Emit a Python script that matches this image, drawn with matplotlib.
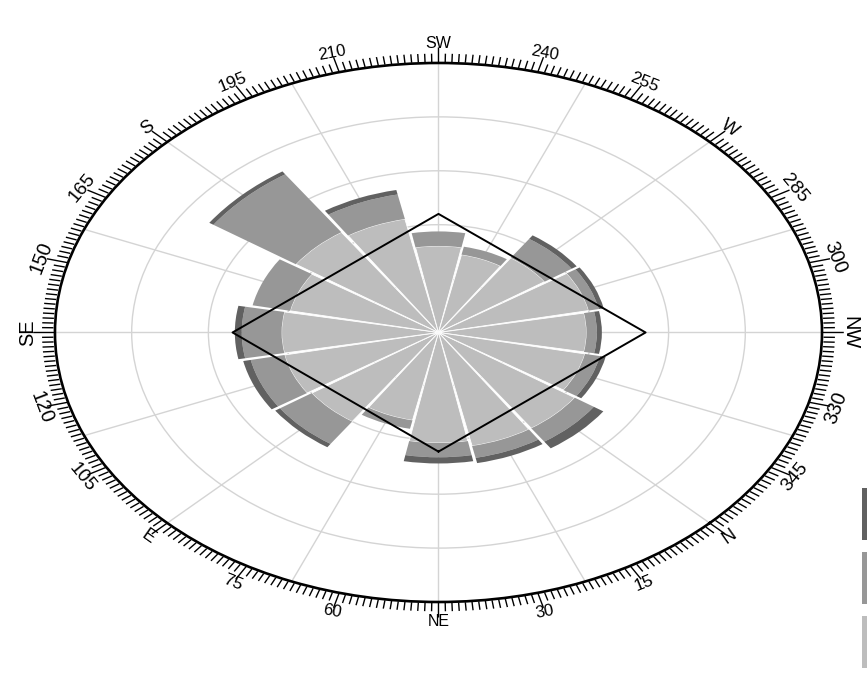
import numpy as np
import matplotlib
matplotlib.use("Agg")
import matplotlib.pyplot as plt
from matplotlib.patches import Patch

# ---------------- data ----------------
directions = [0, 22.5, 45, 67.5, 90, 112.5, 135, 157.5,
              180, 202.5, 225, 247.5, 270, 292.5, 315, 337.5]
light_vals = [0.43, 0.43, 0.41, 0.333, 0.40, 0.41, 0.409, 0.395,
              0.45, 0.43, 0.321, 0.295, 0.335, 0.40, 0.386, 0.39]
medium_vals = [0.06, 0.045, 0.053, 0.032, 0.10, 0.09, 0.104, 0.10,
               0.26, 0.093, 0.054, 0.03, 0.085, 0.027, 0.027, 0.04]
dark_vals = [0.03, 0.02, 0.023, 0.0, 0.015, 0.02, 0.018, 0.0,
             0.013, 0.017, 0.0, 0.0, 0.016, 0.013, 0.013, 0.015]
series_names = ["High", "Medium", "Low"]

diamond_theta = [45, 135, 225, 315]
diamond_r = [0.442, 0.537, 0.44, 0.54]

ring_values = [0.2, 0.4, 0.6, 0.8]
compass_names = {0: "N", 45: "NE", 90: "E", 135: "SE", 180: "S",
                 225: "SW", 270: "W", 315: "NW"}
label_degrees = list(range(0, 360, 15))

# ---------------- styles ----------------
c_light, c_medium, c_dark = "#bdbdbd", "#979797", "#616161"
grid_color = "#d4d4d4"

fig = plt.figure(figsize=(8.67, 6.83), dpi=100)
ax = fig.add_axes([0.0634, 0.1186, 0.8847, 0.7892], projection="polar")
ax.set_aspect("auto")
ax.set_theta_direction(-1)
ax.set_theta_offset(np.deg2rad(-45))
ax.set_ylim(0, 1)
ax.set_axisbelow(True)

# grid
ax.set_yticks(ring_values)
ax.set_yticklabels([])
ax.set_xticks(np.deg2rad(np.arange(0, 360, 22.5)))
ax.set_xticklabels([])
ax.tick_params(axis="both", length=0)
ax.grid(True, color=grid_color, linewidth=1.0)
ax.spines["polar"].set_color("black")
ax.spines["polar"].set_linewidth(1.9)

# bars
theta = np.deg2rad(directions)
width = np.deg2rad(21.5)
light = np.array(light_vals)
medium = np.array(medium_vals)
dark = np.array(dark_vals)
ax.bar(theta, light, width=width, color=c_light, edgecolor="white",
       linewidth=0.6, zorder=2, label=series_names[2])
ax.bar(theta, medium, bottom=light, width=width, color=c_medium,
       edgecolor="none", linewidth=0, zorder=2, label=series_names[1])
ax.bar(theta, dark, bottom=light + medium, width=width, color=c_dark,
       edgecolor="none", linewidth=0, zorder=2, label=series_names[0])

# diamond outline
dt = np.deg2rad(diamond_theta + diamond_theta[:1])
dr = diamond_r + diamond_r[:1]
ax.plot(dt, dr, color="black", linewidth=1.4, zorder=5)

# compass tick marks outside the ellipse
tk_t, tk_r = [], []
for d in range(360):
    t = np.deg2rad(d)
    if d % 15 == 0:
        r0, r1 = 1.004, 1.055
    else:
        r0, r1 = 1.006, 1.032
    tk_t += [t, t, np.nan]
    tk_r += [r0, r1, np.nan]
ax.plot(tk_t, tk_r, color="black", linewidth=1.0, clip_on=False, zorder=6)

# tick labels, tangential to the ellipse
fig_w, fig_h = fig.get_size_inches() * fig.dpi
pos = ax.get_position()
Rx = pos.width * fig_w / 2
Ry = pos.height * fig_h / 2
for d in label_degrees:
    psi = np.deg2rad(-45 - d)
    nx = np.cos(psi) / Rx
    ny = np.sin(psi) / Ry
    phin = round(np.degrees(np.arctan2(ny, nx)), 6) % 360
    rot = phin - 90
    if rot > 90 + 1e-6:
        rot -= 180
    txt = compass_names.get(d, str(d))
    fs = 11.5 * (1 + 0.25 * abs(np.sin(np.deg2rad(rot))))
    ax.text(np.deg2rad(d), 1.072, txt, rotation=rot, rotation_mode="anchor",
            ha="center", va="center", fontsize=fs, family="Liberation Sans",
            clip_on=False, zorder=7)

# legend (its labels fall beyond the right edge in the reference)
handles = [Patch(facecolor=c_dark, edgecolor="none"),
           Patch(facecolor=c_medium, edgecolor="none"),
           Patch(facecolor=c_light, edgecolor="none")]
fig.legend(handles, ["", "", ""], loc="upper left",
           bbox_to_anchor=(862 / 867, 1 - 488 / 683),
           frameon=False, borderpad=0, borderaxespad=0,
           fontsize=10, handlelength=1.6, handleheight=5.38,
           labelspacing=0.86, handletextpad=0.5)

fig.savefig("out.png", dpi=100)
